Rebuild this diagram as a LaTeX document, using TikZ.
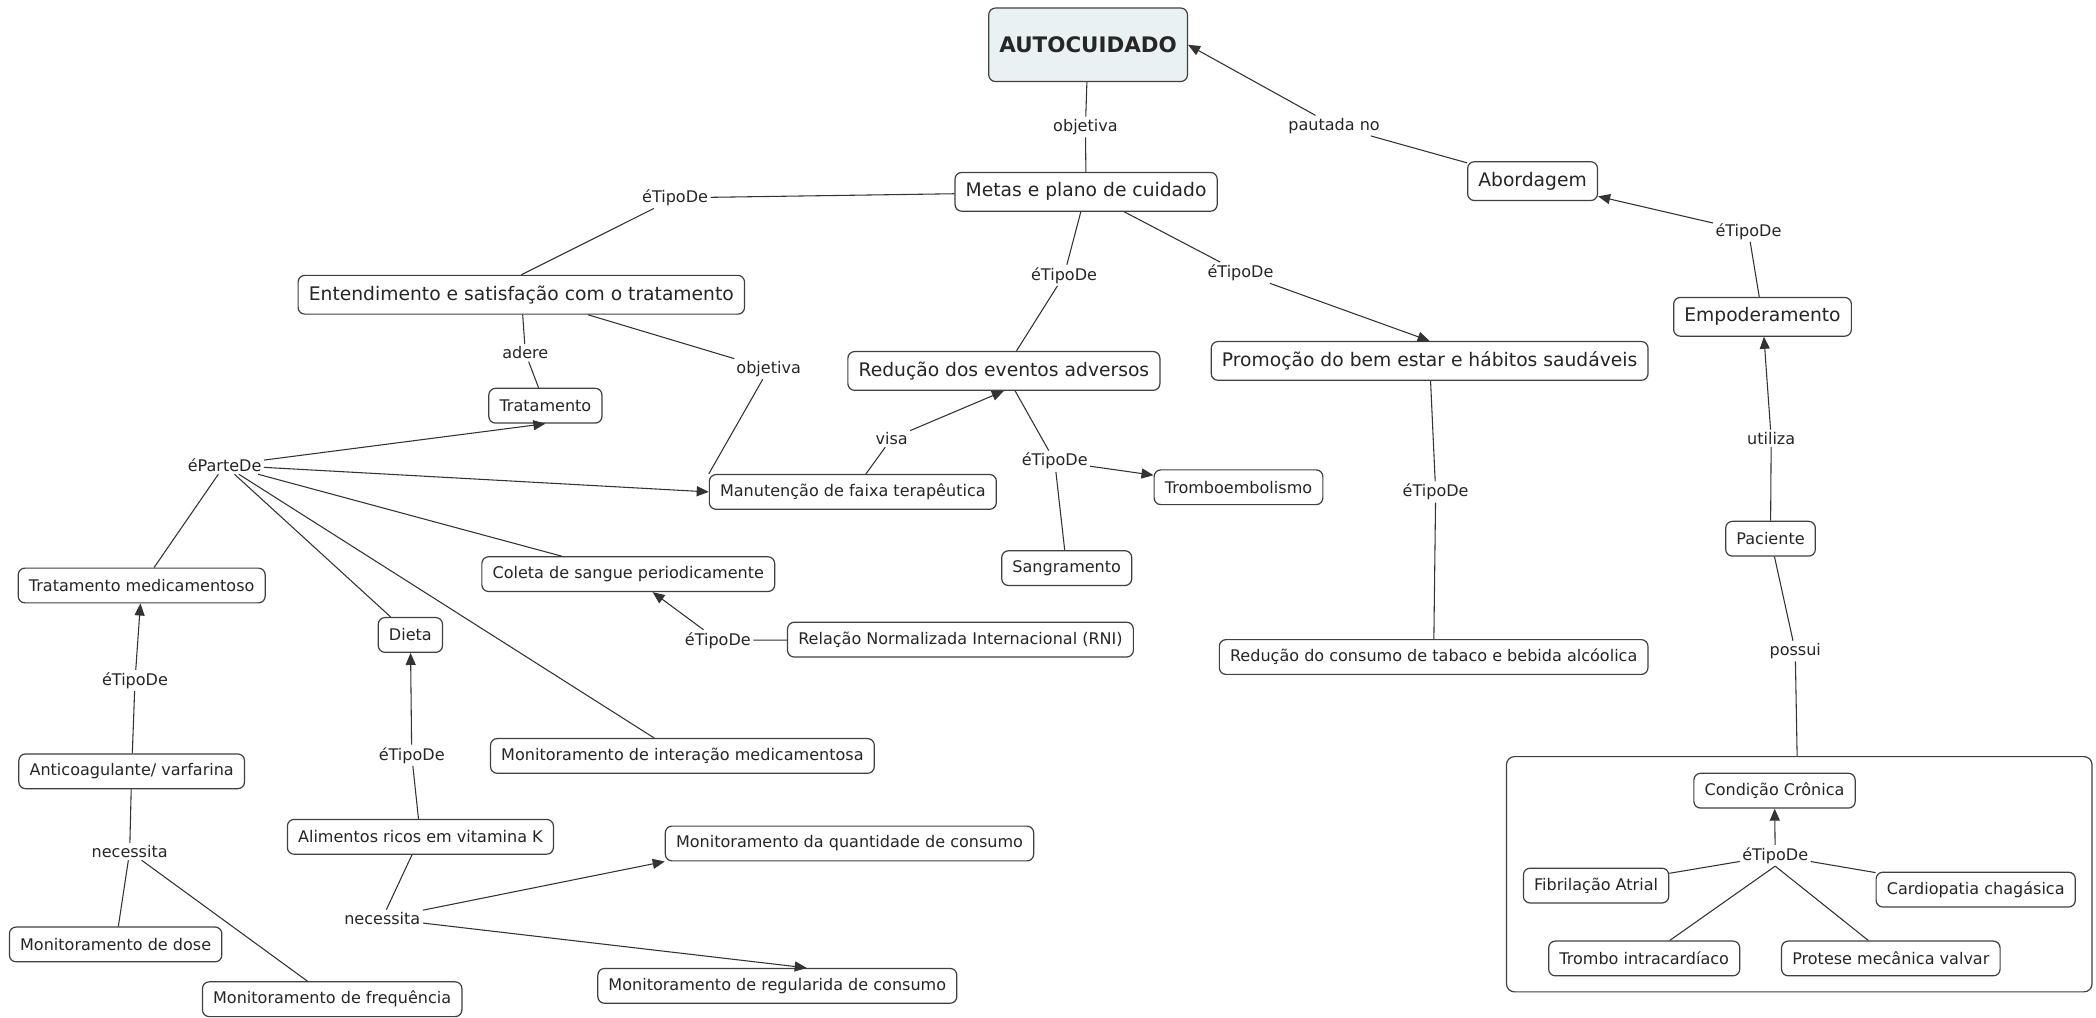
\documentclass[tikz,border=0pt]{standalone}
\usepackage{fontspec}
\setmainfont{DejaVu Sans}
\usetikzlibrary{arrows.meta}

\begin{document}
\begin{tikzpicture}[x=1pt, y=-1pt, >={Triangle[length=9pt,width=7.5pt]}, line width=0.8pt,
		conceito/.style={draw=black!75, fill=white, text=black!85, rounded corners=5pt, line width=0.9pt, inner xsep=8pt, minimum height=26pt, font=\fontsize{12}{14}\selectfont},
		conceitoG/.style={conceito, minimum height=29pt, font=\fontsize{14}{16}\selectfont},
		frase/.style={inner sep=1.5pt, text=black!85, font=\fontsize{12}{14}\selectfont}]
				\useasboundingbox (0,0) rectangle (1568,761);
				\fill[white] (0,0) rectangle (1568,761);
				\node[conceito, fill={rgb,255:red,234;green,241;blue,243}, minimum width=148pt, minimum height=55pt, font=\fontsize{16}{18}\selectfont\bfseries] (auto) at (814,33.5) {AUTOCUIDADO};
				\node[conceitoG] (metas)    at (812.5,143.5) {Metas e plano de cuidado};
				\node[conceitoG] (abord)    at (1146.5,135.5) {Abordagem};
				\node[conceitoG] (empod)    at (1318.5,237) {Empoderamento};
				\node[conceitoG] (entend)   at (390,220.5) {Entendimento e satisfação com o tratamento};
				\node[conceitoG] (reducao)  at (751,277.5) {Redução dos eventos adversos};
				\node[conceitoG] (promocao) at (1069.5,270) {Promoção do bem estar e hábitos saudáveis};
				\node[conceito] (trat)      at (408,303.5) {Tratamento};
				\node[conceito] (manut)     at (638,368) {Manutenção de faixa terapêutica};
				\node[conceito] (trombo)    at (926.5,364.5) {Tromboembolismo};
				\node[conceito] (sangr)     at (798,425) {Sangramento};
				\node[conceito] (pac)       at (1324.5,403) {Paciente};
				\node[conceito] (tratmed)   at (106,438) {Tratamento medicamentoso};
				\node[conceito] (coleta)    at (470,429.5) {Coleta de sangue periodicamente};
				\node[conceito] (dieta)     at (307,475) {Dieta};
				\node[conceito] (rni)       at (718.5,478.5) {Relação Normalizada Internacional (RNI)};
				\node[conceito] (tabaco)    at (1072.5,491.5) {Redução do consumo de tabaco e bebida alcóolica};
				\node[conceito] (interacao) at (510.5,565.5) {Monitoramento de interação medicamentosa};
				\node[conceito] (anticoag)  at (98.5,577) {Anticoagulante/ varfarina};
				\node[conceito] (alim)      at (314.5,626) {Alimentos ricos em vitamina K};
				\node[conceito] (quant)     at (635.5,631) {Monitoramento da quantidade de consumo};
				\node[conceito] (dose)      at (86.5,706.5) {Monitoramento de dose};
				\node[conceito] (freq)      at (248.5,747.5) {Monitoramento de frequência};
				\node[conceito] (regular)   at (581.5,737.5) {Monitoramento de regularida de consumo};
				\node[draw=black!75, rounded corners=6pt, line width=0.9pt, minimum width=438pt, minimum height=176pt] (grupo) at (1346,654) {};
				\node[conceito] (cronica)   at (1327.5,591.5) {Condição Crônica};
				\node[conceito] (fibril)    at (1194,662.5) {Fibrilação Atrial};
				\node[conceito] (chagas)    at (1478,665.5) {Cardiopatia chagásica};
				\node[conceito] (tromboi)   at (1230,717) {Trombo intracardíaco};
				\node[conceito] (protese)   at (1414.5,717) {Protese mecânica valvar};
				\node[frase] (fObj)      at (812,95)   {objetiva};
				\node[frase] (fPaut)     at (998,94)   {pautada no};
				\node[frase] (fTipoEmp)  at (1308,173) {éTipoDe};
				\node[frase] (fTipoEnt)  at (505,148)  {éTipoDe};
				\node[frase] (fTipoRed)  at (796,206)  {éTipoDe};
				\node[frase] (fTipoPro)  at (928,204)  {éTipoDe};
				\node[frase] (fAdere)    at (393,264)  {adere};
				\node[frase] (fObj2)     at (575,276)  {objetiva};
				\node[frase] (fVisa)     at (667,328)  {visa};
				\node[frase] (fTipoTrb)  at (789,345)  {éTipoDe};
				\node[frase] (fTipoTab)  at (1074,368) {éTipoDe};
				\node[frase] (fUtil)     at (1325,328) {utiliza};
				\node[frase] (fPossui)   at (1343,487) {possui};
				\node[frase] (fParte)    at (168,348)  {éParteDe};
				\node[frase] (fTipoRni)  at (537,479)  {éTipoDe};
				\node[frase] (fTipoMed)  at (101,509)  {éTipoDe};
				\node[frase] (fTipoDie)  at (308,565)  {éTipoDe};
				\node[frase] (fNec1)     at (97,637)   {necessita};
				\node[frase] (fNec2)     at (286,687)  {necessita};
				\node[frase] (fTipoCro)  at (1328,640) {éTipoDe};
				\begin{scope}[draw=black!80]
				\draw (auto) -- (fObj) -- (metas);
				\draw (abord) -- (fPaut);
				\draw[->] (fPaut) -- (auto.east);
				\draw (empod) -- (fTipoEmp);
				\draw[->] (fTipoEmp) -- (abord);
				\draw (pac) -- (fUtil);
				\draw[->] (fUtil) -- (empod);
				\draw (pac) -- (fPossui) -- (grupo);
				\draw (metas) -- (fTipoEnt) -- (entend.north);
				\draw (metas) -- (fTipoRed) -- (reducao);
				\draw (metas) -- (fTipoPro);
				\draw[->] (fTipoPro) -- (promocao.north);
				\draw (promocao) -- (fTipoTab) -- (tabaco);
				\draw (entend) -- (fAdere) -- (trat);
				\draw (entend) -- (fObj2) -- (manut.north west);
				\draw (manut) -- (fVisa);
				\draw[->] (fVisa) -- (reducao.south);
				\draw (reducao) -- (fTipoTrb) -- (sangr);
				\draw[->] (fTipoTrb) -- (trombo);
				\draw[->] (fParte) -- (trat.south);
				\draw[->] (fParte) -- (manut.west);
				\draw (fParte) -- (coleta);
				\draw (fParte) -- (tratmed);
				\draw (fParte) -- (dieta);
				\draw (fParte) -- (interacao);
				\draw (rni) -- (fTipoRni);
				\draw[->] (fTipoRni) -- (coleta);
				\draw (anticoag) -- (fTipoMed);
				\draw[->] (fTipoMed) -- (tratmed);
				\draw (alim) -- (fTipoDie);
				\draw[->] (fTipoDie) -- (dieta);
				\draw (anticoag) -- (fNec1) -- (dose);
				\draw (fNec1) -- (freq);
				\draw (alim) -- (fNec2);
				\draw[->] (fNec2) -- (quant.south west);
				\draw[->] (fNec2) -- ([xshift=22pt]regular.north);
				\draw (fibril) -- (fTipoCro);
				\draw (chagas) -- (fTipoCro);
				\draw (tromboi) -- (fTipoCro.south);
				\draw (protese) -- (fTipoCro.south);
				\draw[->] (fTipoCro) -- (cronica);
				\end{scope}
		\end{tikzpicture}
\end{document}
